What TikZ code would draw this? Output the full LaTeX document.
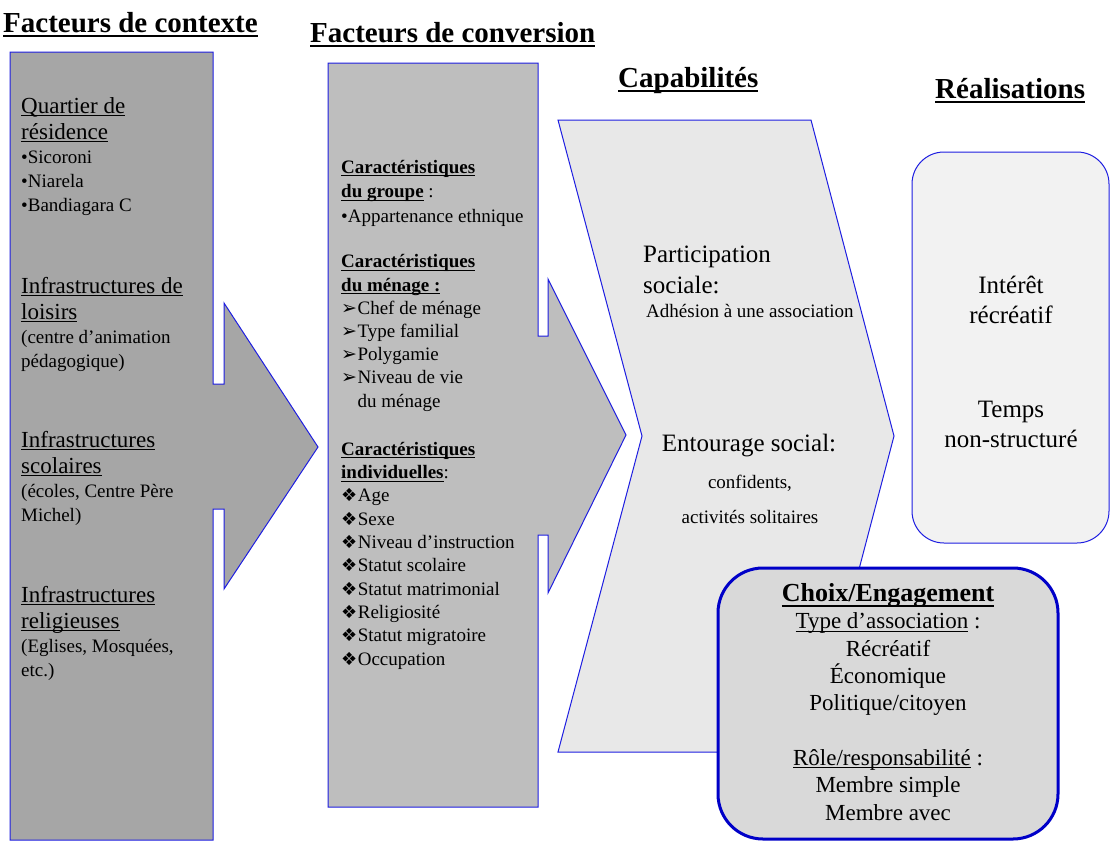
\documentclass[tikz,border=0pt]{standalone}
\usepackage{fontspec}
\setmainfont{Liberation Serif}
\newfontfamily\dingfont{DejaVu Sans}
\definecolor{edge}{RGB}{30,30,225}
\definecolor{edgedark}{RGB}{0,0,200}
\definecolor{ctxfill}{RGB}{166,166,166}
\definecolor{convfill}{RGB}{190,190,190}
\definecolor{capfill}{RGB}{232,232,232}
\definecolor{realfill}{RGB}{242,242,242}
\definecolor{choixfill}{RGB}{217,217,217}
\newcommand\fs[2]{\fontsize{#1}{#2}\selectfont}
\newcommand\ulbox[3]{\leavevmode\setbox0\hbox{#3}\rlap{\rule[-#2]{\wd0}{#1}}\box0}
\newcommand\uln[1]{\ulbox{1pt}{3pt}{#1}}
\newcommand\tul[1]{\ulbox{2pt}{5pt}{#1}}
\newcommand\hb[1]{\textbf{\uln{#1}}}
\newcommand\arr{{\dingfont\fs{19}{19}➢}\kern0.5pt}
\newcommand\dia{{\dingfont\fs{18}{18}❖}\kern0.5pt}
\begin{document}
\begin{tikzpicture}[x=1pt,y=-1pt, shp/.style={draw=edge,line width=1pt,line join=miter},
 ttl/.style={anchor=base west,inner sep=0,font=\fs{29}{30}\bfseries},
 txt/.style={anchor=base west,inner sep=0,align=left},
 mid/.style={anchor=base,inner sep=0,align=center}]
\useasboundingbox (0,0) rectangle (1114,841);
\fill[white] (0,0) rectangle (1114,841);
\draw[shp,fill=ctxfill] (10,52) -- (213,52) -- (213,384) -- (224,384) -- (224,303) -- (318,447) -- (224,589) -- (224,509) -- (213,509) -- (213,840) -- (10,840) -- cycle;
\draw[shp,fill=convfill] (328,63) -- (538,63) -- (538,336) -- (548,336) -- (548,279) -- (626,435) -- (548,593) -- (548,535) -- (538,535) -- (538,807) -- (328,807) -- cycle;
\draw[shp,fill=capfill] (558,120) -- (811,120) -- (894,436) -- (811,752) -- (558,752) -- (642,436) -- cycle;
\draw[shp,fill=realfill,rounded corners=32] (912,152) rectangle (1109,543);
\draw[draw=edgedark,line width=3pt,fill=choixfill,rounded corners=45] (718,568) rectangle (1058,839);
\node[ttl] (ttlctx) at (3,32) {\tul{Facteurs de contexte}};
\node[ttl] (ttlconv) at (310,42) {\tul{Facteurs de conversion}};
\node[ttl] (ttlcap) at (618,87) {\tul{Capabilités}};
\node[ttl] (ttlreal) at (935,98) {\tul{Réalisations}};
% multi-line nodes sit on the baseline of their last line
\foreach \y/\n/\hd/\dt [count=\i] in {113/3/{\uln{Quartier de}\\\uln{résidence}}/{•Sicoroni\\•Niarela\\•Bandiagara C},
 293/2/{\uln{Infrastructures de}\\\uln{loisirs}}/{(centre d’animation\\pédagogique)},
 447/2/{\uln{Infrastructures}\\\uln{scolaires}}/{(écoles, Centre Père\\Michel)},
 602/2/{\uln{Infrastructures}\\\uln{religieuses}}/{(Eglises, Mosquées,\\etc.)}}
 {\node[txt,font=\fs{23}{26}] (ctxhd\i) at (21,\y+26) {\hd};
  \node[txt,font=\fs{19}{24}] (ctxdt\i) at (21,\y+50+24*\n-24) {\dt};}
\node[txt,font=\fs{19}{24.5}] (grp) at (341,222) {\hb{Caractéristiques}\\\hb{du groupe} :\\•Appartenance ethnique};
\node[txt,font=\fs{19}{23.2}] (men) at (341,407) {\hb{Caractéristiques}\\\hb{du ménage :}\\\arr Chef de ménage\\\arr Type familial\\\arr Polygamie\\\arr Niveau de vie\\\hphantom{\arr}du ménage};
\node[txt,font=\fs{19}{23.3}] (ind) at (341,665) {\hb{Caractéristiques}\\\hb{individuelles}:\\\dia Age\\\dia Sexe\\\dia Niveau d’instruction\\\dia Statut scolaire\\\dia Statut matrimonial\\\dia Religiosité\\\dia Statut migratoire\\\dia Occupation};
\node[txt,font=\fs{25}{31}] (part) at (643,293) {Participation\\sociale:};
\node[txt,font=\fs{19}{23}] (adh) at (646,317) {Adhésion à une association};
\node[mid,font=\fs{25}{25}] (ento) at (749,451) {Entourage social:};
\node[mid,font=\fs{19}{35}] (conf) at (750,523) {confidents,\\activités solitaires};
\node[mid,font=\fs{25}{30}] (inter) at (1011,323) {Intérêt\\récréatif};
\node[mid,font=\fs{25}{30}] (temps) at (1011,447) {Temps\\non-structuré};
\node[mid,font=\fs{23}{27.3}] (choix) at (888,820) {{\fs{26}{27.3}\bfseries\tul{Choix/Engagement}}\\\uln{Type d’association}~:\\Récréatif\\Économique\\Politique/citoyen\\[27.3pt]\uln{Rôle/responsabilité}~:\\Membre simple\\Membre avec};
\end{tikzpicture}
\end{document}
